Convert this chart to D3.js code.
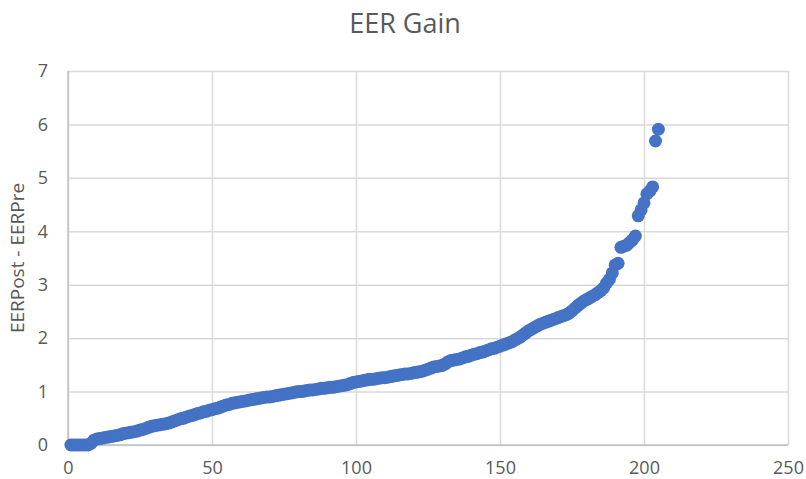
<!DOCTYPE html>
<html>
<head>
<meta charset="utf-8">
<script src="https://cdn.jsdelivr.net/npm/d3@7"></script>
<style>
  html, body { margin: 0; padding: 0; background: #fff; }
  svg { display: block; font-family: "Open Sans", "Noto Sans", sans-serif; }
</style>
</head>
<body>
<svg id="chart" width="806" height="479"></svg>
<script>
const chartTitle = "EER Gain";
const yAxisTitle = "EERPost - EERPre";
const xTicks = [0, 50, 100, 150, 200, 250];
const yTicks = [0, 1, 2, 3, 4, 5, 6, 7];
// EERPost - EERPre gain, sorted ascending (index 1..205)
const gainValues = [
  0, 0, 0, 0, 0, 0, 0, 0.03, 0.09, 0.11,
  0.12, 0.13, 0.14, 0.15, 0.16, 0.17, 0.18, 0.19, 0.21, 0.22,
  0.23, 0.24, 0.25, 0.26, 0.28, 0.29, 0.31, 0.33, 0.35, 0.36,
  0.37, 0.38, 0.39, 0.40, 0.41, 0.43, 0.45, 0.47, 0.49, 0.50,
  0.52, 0.54, 0.55, 0.57, 0.59, 0.60, 0.62, 0.63, 0.65, 0.66,
  0.68, 0.69, 0.71, 0.73, 0.75, 0.76, 0.78, 0.79, 0.80, 0.81,
  0.82, 0.83, 0.84, 0.85, 0.86, 0.87, 0.88, 0.89, 0.90, 0.90,
  0.91, 0.92, 0.93, 0.94, 0.95, 0.96, 0.97, 0.98, 0.99, 1.00,
  1.00, 1.01, 1.02, 1.03, 1.03, 1.04, 1.05, 1.06, 1.06, 1.07,
  1.08, 1.08, 1.09, 1.10, 1.11, 1.12, 1.13, 1.15, 1.17, 1.18,
  1.19, 1.20, 1.21, 1.22, 1.23, 1.23, 1.24, 1.25, 1.26, 1.26,
  1.27, 1.28, 1.29, 1.30, 1.31, 1.32, 1.33, 1.33, 1.34, 1.35,
  1.36, 1.37, 1.38, 1.40, 1.42, 1.44, 1.46, 1.47, 1.48, 1.49,
  1.52, 1.56, 1.58, 1.59, 1.60, 1.61, 1.63, 1.65, 1.66, 1.68,
  1.70, 1.71, 1.73, 1.74, 1.76, 1.78, 1.80, 1.81, 1.83, 1.85,
  1.87, 1.89, 1.91, 1.93, 1.96, 1.99, 2.02, 2.06, 2.10, 2.14,
  2.17, 2.20, 2.23, 2.26, 2.28, 2.30, 2.32, 2.34, 2.36, 2.38,
  2.40, 2.42, 2.44, 2.47, 2.51, 2.56, 2.61, 2.65, 2.69, 2.72,
  2.75, 2.78, 2.81, 2.85, 2.89, 2.94, 3.03, 3.10, 3.22, 3.37,
  3.40, 3.70, 3.72, 3.74, 3.79, 3.84, 3.91, 4.29, 4.40, 4.53,
  4.70, 4.75, 4.83, 5.69, 5.91
];
const points = gainValues.map((v, i) => ({ x: i + 1, y: v }));

const svg = d3.select("#chart");
const margin = { left: 68, right: 18, top: 71, bottom: 34 };
const W = 806, H = 479;
const x = d3.scaleLinear().domain([0, 250]).range([margin.left, W - margin.right]);
const y = d3.scaleLinear().domain([0, 7]).range([H - margin.bottom, margin.top]);

const textColor = "#595959";
const gridColor = "#d9d9d9";

// gridlines
const gx = svg.append("g")
  .attr("transform", `translate(0,${y(0)})`)
  .call(d3.axisBottom(x).tickValues(xTicks).tickSize(-(y(0) - y(7))).tickFormat(""));
const gy = svg.append("g")
  .attr("transform", `translate(${x(0)},0)`)
  .call(d3.axisLeft(y).tickValues(yTicks).tickSize(-(x(250) - x(0))).tickFormat(""));
[gx, gy].forEach(g => {
  g.select(".domain").remove();
  g.selectAll(".tick line").attr("stroke", gridColor).attr("stroke-width", 1.5);
});

// axis lines
svg.append("line").attr("x1", x(0)).attr("x2", x(0)).attr("y1", y(0)).attr("y2", y(7))
  .attr("stroke", "#bfbfbf").attr("stroke-width", 1.5);
svg.append("line").attr("x1", x(0)).attr("x2", x(250)).attr("y1", y(0)).attr("y2", y(0))
  .attr("stroke", "#bfbfbf").attr("stroke-width", 1.5);

// tick labels
const xl = svg.append("g")
  .attr("transform", `translate(0,${y(0)})`)
  .call(d3.axisBottom(x).tickValues(xTicks).tickSize(0).tickPadding(16).tickFormat(d3.format("d")));
const yl = svg.append("g")
  .attr("transform", `translate(${x(0)},0)`)
  .call(d3.axisLeft(y).tickValues(yTicks).tickSize(0).tickPadding(20).tickFormat(d3.format("d")));
[xl, yl].forEach(g => {
  g.select(".domain").remove();
  g.selectAll("text").attr("fill", textColor).style("font-size", "18px")
    .style("font-family", '"Open Sans", sans-serif');
});

// points
svg.append("g").selectAll("circle").data(points).join("circle")
  .attr("cx", d => x(d.x)).attr("cy", d => y(d.y)).attr("r", 6.5)
  .attr("fill", "#4472C4");

// title
svg.append("text").attr("x", 405).attr("y", 33).attr("text-anchor", "middle")
  .attr("fill", textColor).style("font-size", "27px").text(chartTitle);

// y axis title
svg.append("text").attr("transform", `translate(24,${(y(0) + y(7)) / 2}) rotate(-90)`)
  .attr("text-anchor", "middle").attr("fill", textColor).style("font-size", "19px")
  .text(yAxisTitle);
</script>
</body>
</html>
